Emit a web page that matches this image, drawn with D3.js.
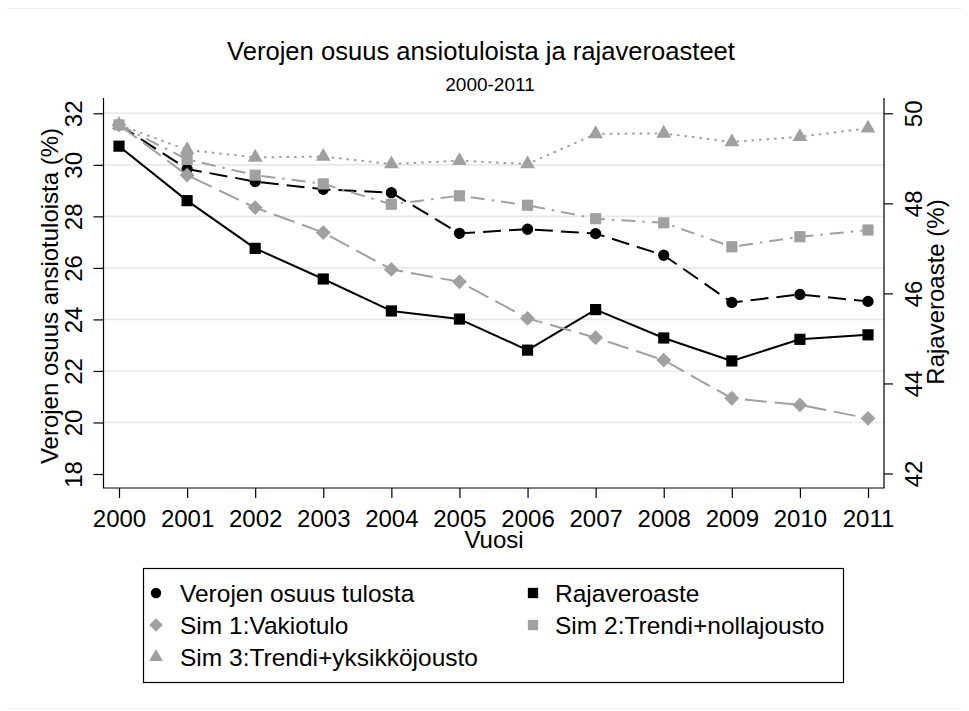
<!DOCTYPE html>
<html>
<head>
<meta charset="utf-8">
<script src="https://cdn.jsdelivr.net/npm/d3@7"></script>
<style>
  html, body { margin: 0; padding: 0; background: #fff; }
  svg { display: block; font-family: "Liberation Sans", Arial, Helvetica, sans-serif; }
</style>
</head>
<body>
<svg id="chart" width="969" height="711"></svg>
<script>
// ---- data ----
const years = [2000, 2001, 2002, 2003, 2004, 2005, 2006, 2007, 2008, 2009, 2010, 2011];
const taxShare     = [31.55, 29.84, 29.35, 29.05, 28.92, 27.34, 27.50, 27.33, 26.49, 24.66, 24.97, 24.70];
const marginalRate = [49.27, 48.06, 47.00, 46.32, 45.61, 45.43, 44.74, 45.64, 45.01, 44.50, 44.98, 45.08];
const sim1 = [31.55, 29.60, 28.34, 27.37, 25.94, 25.46, 24.04, 23.29, 22.42, 20.94, 20.68, 20.16];
const sim2 = [31.55, 30.21, 29.60, 29.26, 28.47, 28.80, 28.43, 27.91, 27.75, 26.82, 27.21, 27.47];
const sim3 = [31.55, 30.58, 30.29, 30.32, 30.03, 30.16, 30.03, 31.20, 31.22, 30.89, 31.09, 31.42];
const leftTicks = [18, 20, 22, 24, 26, 28, 30, 32];
const rightTicks = [42, 44, 46, 48, 50];
const seriesNames = ["Verojen osuus tulosta", "Rajaveroaste", "Sim 1:Vakiotulo", "Sim 2:Trendi+nollajousto", "Sim 3:Trendi+yksikköjousto"];
const titleText = "Verojen osuus ansiotuloista ja rajaveroasteet";
const subtitleText = "2000-2011";
const xTitle = "Vuosi";
const yLeftTitle = "Verojen osuus ansiotuloista (%)";
const yRightTitle = "Rajaveroaste (%)";

// ---- layout ----
const svg = d3.select("#chart");
const plotLeft = 103.5, plotRight = 884, plotTop = 98, plotBottom = 488;
const black = "#000", gray = "#a0a0a0";

const x = d3.scaleLinear().domain([2000, 2011]).range([119, 868]);
const yL = d3.scaleLinear().domain([18, 32]).range([474, 113.3]);
const yR = d3.scaleLinear().domain([42, 50]).range([473.5, 113.3]);

// faint outer frame lines
svg.append("line").attr("x1", 7).attr("x2", 962).attr("y1", 8.5).attr("y2", 8.5)
  .attr("stroke", "#efefef").attr("stroke-width", 1);
svg.append("line").attr("x1", 7).attr("x2", 962).attr("y1", 708.5).attr("y2", 708.5)
  .attr("stroke", "#f3f3f3").attr("stroke-width", 1);

// gridlines (not at the lowest tick)
svg.append("g").selectAll("line").data(leftTicks.filter(d => d > 18)).join("line")
  .attr("x1", plotLeft).attr("x2", plotRight)
  .attr("y1", d => yL(d)).attr("y2", d => yL(d))
  .attr("stroke", "#e8e8e8").attr("stroke-width", 1.6);

// axes
const fontSize = 24;
const gL = svg.append("g").attr("transform", `translate(${plotLeft},0)`)
  .call(d3.axisLeft(yL).tickValues(leftTicks).tickSize(10).tickSizeOuter(0).tickFormat(d3.format("d")));
gL.select(".domain").remove();
gL.selectAll(".tick line").attr("stroke", black).attr("stroke-width", 1.2);
gL.selectAll(".tick text").attr("transform", "rotate(-90)").attr("x", 0).attr("y", -21.5).attr("dy", 0)
  .attr("text-anchor", "middle").attr("font-size", fontSize).attr("fill", black)
  .attr("font-family", "Liberation Sans, Arial, sans-serif");

const gR = svg.append("g").attr("transform", `translate(${plotRight},0)`)
  .call(d3.axisRight(yR).tickValues(rightTicks).tickSize(9).tickSizeOuter(0).tickFormat(d3.format("d")));
gR.select(".domain").remove();
gR.selectAll(".tick line").attr("stroke", black).attr("stroke-width", 1.2);
gR.selectAll(".tick text").attr("transform", "rotate(-90)").attr("x", 0).attr("y", 37.7).attr("dy", 0)
  .attr("text-anchor", "middle").attr("font-size", fontSize).attr("fill", black)
  .attr("font-family", "Liberation Sans, Arial, sans-serif");

const gB = svg.append("g").attr("transform", `translate(0,${plotBottom})`)
  .call(d3.axisBottom(x).tickValues(years).tickSize(10).tickSizeOuter(0).tickFormat(d3.format("d")));
gB.select(".domain").remove();
gB.selectAll(".tick line").attr("stroke", black).attr("stroke-width", 1.2);
gB.selectAll(".tick text").attr("y", 38.7).attr("dy", 0).attr("font-size", fontSize).attr("fill", black)
  .attr("font-family", "Liberation Sans, Arial, sans-serif");

// axis lines
svg.append("line").attr("x1", plotLeft).attr("x2", plotLeft).attr("y1", plotTop).attr("y2", plotBottom)
  .attr("stroke", black).attr("stroke-width", 1.2);
svg.append("line").attr("x1", plotRight).attr("x2", plotRight).attr("y1", plotTop).attr("y2", plotBottom)
  .attr("stroke", black).attr("stroke-width", 1.2);
svg.append("line").attr("x1", plotLeft - 0.6).attr("x2", plotRight + 0.6).attr("y1", plotBottom).attr("y2", plotBottom)
  .attr("stroke", black).attr("stroke-width", 1.2);

// titles
svg.append("text").attr("x", 481).attr("y", 60).attr("text-anchor", "middle")
  .attr("font-size", 25.6).text(titleText);
svg.append("text").attr("x", 490).attr("y", 91).attr("text-anchor", "middle")
  .attr("font-size", 19).text(subtitleText);
svg.append("text").attr("x", 494).attr("y", 548).attr("text-anchor", "middle")
  .attr("font-size", fontSize).text(xTitle);
svg.append("text").attr("transform", `translate(58,296) rotate(-90)`).attr("text-anchor", "middle")
  .attr("font-size", fontSize).text(yLeftTitle);
svg.append("text").attr("transform", `translate(944,292) rotate(-90)`).attr("text-anchor", "middle")
  .attr("font-size", fontSize).text(yRightTitle);

// series
const diamondPath = d3.symbol().type(d3.symbolSquare).size(110)();
const series = [
  { name: seriesNames[0], values: taxShare, y: yL, color: black, dash: "18,8", sym: d3.symbolCircle, size: 100, rot: 0 },
  { name: seriesNames[1], values: marginalRate, y: yR, color: black, dash: null, sym: d3.symbolSquare, size: 125, rot: 0 },
  { name: seriesNames[2], values: sim1, y: yL, color: gray, dash: "22,8", sym: d3.symbolSquare, size: 110, rot: 45 },
  { name: seriesNames[3], values: sim2, y: yL, color: gray, dash: "14,7,2.5,7", sym: d3.symbolSquare, size: 125, rot: 0 },
  { name: seriesNames[4], values: sim3, y: yL, color: gray, dash: "2.5,5", sym: d3.symbolTriangle, size: 95, rot: 0 }
];

series.forEach(s => {
  const pts = years.map((yr, i) => [x(yr), s.y(s.values[i])]);
  svg.append("path").datum(pts)
    .attr("d", d3.line())
    .attr("fill", "none").attr("stroke", s.color).attr("stroke-width", 2)
    .attr("stroke-dasharray", s.dash).attr("stroke-linejoin", "round");
  svg.append("g").selectAll("path").data(pts).join("path")
    .attr("d", d3.symbol().type(s.sym).size(s.size)())
    .attr("transform", d => `translate(${d[0]},${d[1]}) rotate(${s.rot})`)
    .attr("fill", s.color);
});

// legend
const lg = svg.append("g");
lg.append("rect").attr("x", 143.5).attr("y", 568.5).attr("width", 700).attr("height", 114)
  .attr("fill", "none").attr("stroke", black).attr("stroke-width", 1.2);
const legendPos = [
  { mx: 156, tx: 180, cy: 593 },
  { mx: 533, tx: 555, cy: 593 },
  { mx: 156, tx: 180, cy: 625 },
  { mx: 533, tx: 555, cy: 625 },
  { mx: 156, tx: 180, cy: 657 }
];
series.forEach((s, i) => {
  const p = legendPos[i];
  lg.append("path").attr("d", d3.symbol().type(s.sym).size(s.size * 0.85)())
    .attr("transform", `translate(${p.mx},${p.cy}) rotate(${s.rot})`)
    .attr("fill", s.color);
  lg.append("text").attr("x", p.tx).attr("y", p.cy + 8.5).attr("font-size", 24.5).text(s.name);
});
</script>
</body>
</html>
